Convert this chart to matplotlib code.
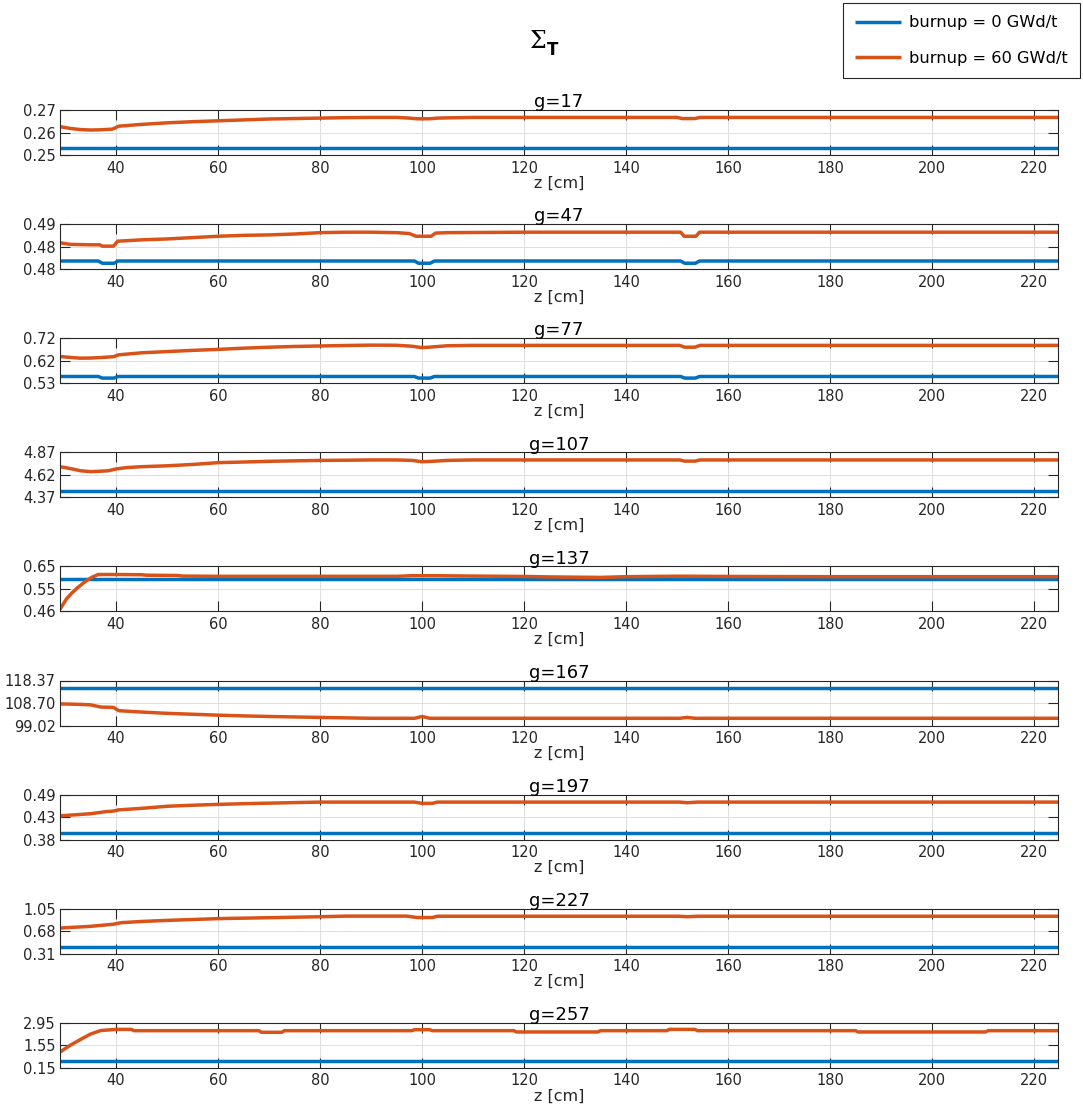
import matplotlib
matplotlib.use("Agg")
import matplotlib.pyplot as plt
from matplotlib.ticker import FormatStrFormatter

# ---------------- data ----------------
groups = ["g=17", "g=47", "g=77", "g=107", "g=137", "g=167", "g=197", "g=227", "g=257"]
legend_labels = ["burnup = 0 GWd/t", "burnup = 60 GWd/t"]
xticks = [40, 60, 80, 100, 120, 140, 160, 180, 200, 220]

# y-axis limits (min, max) for each panel
ylims = [(0.25, 0.27), (0.4775, 0.4875), (0.531, 0.716), (4.37, 4.87), (0.4595, 0.6455),
         (99.022, 118.37), (0.38, 0.488), (0.31, 1.05), (0.15, 2.95)]

# burnup = 0 (blue) - common z grid
z_fresh = [29, 36.5, 37.3, 39.6, 40.4, 98.5, 99.3, 101.6, 102.4, 150.7, 151.5, 153.6, 154.4, 224.7]
b17 = [0.253] * 14
b47 = [0.4793, 0.4793, 0.4788, 0.4788, 0.4793, 0.4793, 0.4788, 0.4788, 0.4793, 0.4793, 0.4788, 0.4788, 0.4793, 0.4793]
b77 = [0.5586, 0.5586, 0.5520, 0.5520, 0.5586, 0.5586, 0.5520, 0.5520, 0.5586, 0.5586, 0.5520, 0.5520, 0.5586, 0.5586]
b107 = [4.435] * 14
b137 = [0.592] * 14
b167 = [115.08] * 14
b197 = [0.3954] * 14
b227 = [0.419] * 14
b257 = [0.564] * 14

# burnup = 60 (orange)
z17 = [29, 31, 33, 35, 37, 39.3, 40.5, 45, 50, 55, 60, 65, 70, 75, 80, 85, 90, 95, 97.5, 99, 101.5, 103, 105, 110, 120, 150, 151, 153.5, 154.5, 224.7]
o17 = [0.2626, 0.2618, 0.2613, 0.2611, 0.2612, 0.2615, 0.2628, 0.2636, 0.2643, 0.2648, 0.2652, 0.2656, 0.2660, 0.2662, 0.2664, 0.2666, 0.2667, 0.2667, 0.2664, 0.2661, 0.2661, 0.2664, 0.2665, 0.2667, 0.2667, 0.2667, 0.2662, 0.2662, 0.2667, 0.2667]

z47 = [29, 31, 35, 36.8, 37.3, 39.5, 40.3, 45, 50, 55, 60, 65, 70, 75, 80, 85, 90, 95, 97.5, 98.8, 101.8, 102.6, 105, 120, 150.7, 151.4, 153.7, 154.4, 224.7]
o47 = [0.48335, 0.4830, 0.4829, 0.4829, 0.4826, 0.4826, 0.4837, 0.4840, 0.4842, 0.4845, 0.4848, 0.4850, 0.4851, 0.4853, 0.4856, 0.4857, 0.4857, 0.4856, 0.4854, 0.4848, 0.4848, 0.4855, 0.4856, 0.4857, 0.4857, 0.4848, 0.4848, 0.4857, 0.4857]

z77 = [29, 31, 33, 35, 37, 39.5, 40.5, 45, 50, 55, 60, 65, 70, 75, 80, 85, 90, 95, 98, 100, 102, 105, 110, 120, 150.5, 151.5, 153.5, 154.5, 224.7]
o77 = [0.6407, 0.6370, 0.6339, 0.6345, 0.6365, 0.6400, 0.6476, 0.6560, 0.6610, 0.6660, 0.6700, 0.6750, 0.6790, 0.6820, 0.6840, 0.6860, 0.6875, 0.6870, 0.6830, 0.6772, 0.6800, 0.6850, 0.6865, 0.6865, 0.6865, 0.6790, 0.6790, 0.6865, 0.6865]

z107 = [29, 31, 33, 35, 37, 38.5, 40, 42, 45, 50, 55, 60, 65, 70, 75, 80, 85, 90, 95, 98, 100, 102, 105, 110, 150.5, 151.5, 153.5, 154.5, 224.7]
o107 = [4.71, 4.69, 4.665, 4.655, 4.66, 4.665, 4.685, 4.70, 4.71, 4.72, 4.735, 4.755, 4.762, 4.77, 4.775, 4.78, 4.782, 4.785, 4.785, 4.78, 4.765, 4.770, 4.78, 4.785, 4.785, 4.772, 4.772, 4.785, 4.785]

z137 = [29, 29.5, 30.3, 31.3, 32.3, 33.3, 34.3, 35.3, 36.5, 40, 45, 46, 52, 53, 60, 95, 98, 103, 110, 120, 125, 135, 140, 150, 160, 180, 224.7]
o137 = [0.468, 0.485, 0.512, 0.535, 0.5546, 0.572, 0.588, 0.601, 0.612, 0.612, 0.611, 0.609, 0.608, 0.6055, 0.6045, 0.6045, 0.607, 0.607, 0.6055, 0.604, 0.602, 0.600, 0.603, 0.605, 0.604, 0.603, 0.603]

z167 = [29, 33, 35, 37, 39.5, 40.5, 45, 50, 55, 60, 65, 70, 75, 80, 90, 98.5, 100, 101.5, 150.5, 152, 153.5, 224.7]
o167 = [108.3, 108.1, 107.9, 106.96, 106.8, 105.4, 104.8, 104.25, 103.86, 103.47, 103.15, 102.9, 102.7, 102.5, 102.12, 102.12, 102.9, 102.12, 102.12, 102.5, 102.12, 102.12]

z197 = [29, 32, 35, 38, 39.5, 40.5, 45, 50, 55, 60, 65, 70, 75, 80, 95, 98.5, 100, 102, 103, 150.5, 152, 154, 224.7]
o197 = [0.4372, 0.4395, 0.4421, 0.447, 0.4485, 0.4513, 0.455, 0.4600, 0.4625, 0.4645, 0.4662, 0.4675, 0.4688, 0.4700, 0.4700, 0.4700, 0.4670, 0.4670, 0.4700, 0.4700, 0.4685, 0.4700, 0.4700]

z227 = [29, 35, 39.5, 41, 45, 50, 55, 60, 70, 80, 85, 97, 99, 102, 103, 150.5, 152, 154, 224.7]
o227 = [0.732, 0.76, 0.795, 0.82, 0.84, 0.858, 0.872, 0.887, 0.902, 0.918, 0.928, 0.928, 0.905, 0.905, 0.926, 0.926, 0.918, 0.926, 0.926]

z257 = [29, 31, 33, 35, 37, 40, 43, 43.5, 68, 68.5, 72.5, 73, 98, 98.5, 101.5, 102, 118, 118.5, 134.5, 135, 148, 148.5, 153.5, 154, 185, 185.5, 210.5, 211, 224.7]
o257 = [1.13, 1.55, 1.91, 2.25, 2.47, 2.54, 2.54, 2.46, 2.46, 2.36, 2.36, 2.46, 2.46, 2.52, 2.52, 2.46, 2.46, 2.38, 2.38, 2.46, 2.46, 2.54, 2.54, 2.46, 2.46, 2.38, 2.38, 2.46, 2.46]

fresh = [b17, b47, b77, b107, b137, b167, b197, b227, b257]
burnt_z = [z17, z47, z77, z107, z137, z167, z197, z227, z257]
burnt = [o17, o47, o77, o107, o137, o167, o197, o227, o257]

# ---------------- plot ----------------
W, H = 1083, 1107
fig = plt.figure(figsize=(W / 100, H / 100), dpi=100)
plt.rcParams['font.family'] = ['DejaVu Sans']

blue = '#0072BD'
orange = '#D95319'
dark = '#262626'

left_px, right_px = 60, 1058
ax_h = 45
tops = [110 + i * 114.1 for i in range(9)]

handles = None
for i, g in enumerate(groups):
    top = tops[i]
    ax = fig.add_axes([left_px / W, 1 - (top + ax_h) / H, (right_px - left_px) / W, ax_h / H])
    l1, = ax.plot(z_fresh, fresh[i], color=blue, lw=2.5, solid_capstyle='butt')
    l2, = ax.plot(burnt_z[i], burnt[i], color=orange, lw=2.5, solid_capstyle='butt')
    if handles is None:
        handles = [l1, l2]
    lo, hi = ylims[i]
    ax.set_ylim(lo, hi)
    ax.set_yticks([lo, (lo + hi) / 2, hi])
    ax.yaxis.set_major_formatter(FormatStrFormatter('%.2f'))
    ax.set_xlim(29, 224.7)
    ax.set_xticks(xticks)
    ax.grid(True, color='#dedede', lw=0.7)
    ax.set_axisbelow(True)
    ax.tick_params(direction='in', length=7, width=0.8, colors=dark, labelsize=10.5,
                   top=True, right=True, pad=3)
    ax.tick_params(axis='x', pad=4)
    for s in ax.spines.values():
        s.set_color(dark)
        s.set_linewidth(0.8)
    ax.set_title(g, fontsize=13, pad=2, color='black')
    ax.set_xlabel('z [cm]', fontsize=11.5, color=dark, labelpad=0)

fig.text(547 / W, 1 - 42 / H, 'Σ', family='DejaVu Serif', fontsize=17, ha='right', va='center')
fig.text(547 / W, 1 - 50 / H, 'T', fontsize=12, fontweight='bold', ha='left', va='center')

leg = fig.legend(handles, legend_labels, loc='upper right', bbox_to_anchor=(1080 / W, 1 - 3 / H),
                 fontsize=11.7, frameon=True, fancybox=False, edgecolor=dark, framealpha=1,
                 handlelength=2.8, labelspacing=1.25, borderpad=0.75, handletextpad=0.5,
                 borderaxespad=0)
leg.get_frame().set_linewidth(0.8)

fig.savefig('out.png', dpi=100)
